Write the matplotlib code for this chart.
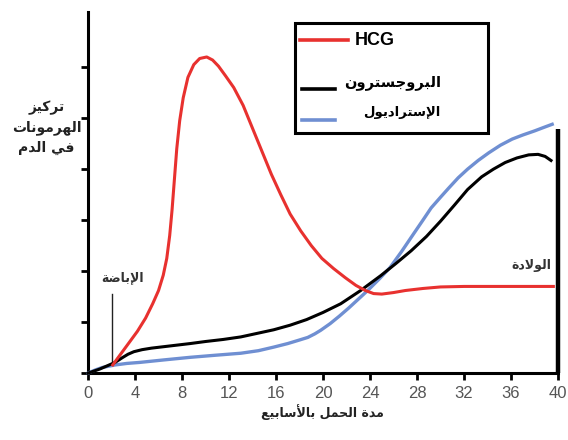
import matplotlib
matplotlib.use("Agg")
import matplotlib.pyplot as plt
from matplotlib.patches import Rectangle

# --- data (weeks, relative concentration) ---
hcg_x = [2.1, 2.8, 3.5, 4.2, 4.9, 5.5, 6.0, 6.4, 6.7, 6.95, 7.15, 7.35, 7.55, 7.8, 8.1, 8.5,
         9.0, 9.5, 10.1, 10.6, 11.1, 11.7, 12.4, 13.2, 14.0, 14.8, 15.6, 16.4, 17.2, 18.1,
         19.0, 19.9, 20.9, 21.9, 22.8, 23.6, 24.3, 25.0, 26.0, 27.0, 28.5, 30.0, 32.0, 36.0, 39.6]
hcg_y = [0.16, 0.38, 0.6, 0.82, 1.08, 1.36, 1.62, 1.92, 2.25, 2.7, 3.2, 3.8, 4.4, 4.95, 5.4, 5.8,
         6.05, 6.17, 6.2, 6.14, 6.02, 5.83, 5.6, 5.25, 4.8, 4.35, 3.9, 3.5, 3.12, 2.79,
         2.5, 2.25, 2.05, 1.87, 1.72, 1.62, 1.56, 1.55, 1.58, 1.62, 1.66, 1.69, 1.7, 1.7, 1.7]

prog_x = [0, 0.5, 1.0, 1.6, 2.3, 2.9, 3.4, 3.9, 4.6, 5.4, 6.5, 7.6, 8.7, 10.0, 11.5, 13.0,
          14.4, 15.8, 17.2, 18.6, 20.0, 21.5, 23.2, 24.9, 26.2, 27.5, 28.8, 30.0, 31.2, 32.3,
          33.5, 34.5, 35.5, 36.5, 37.5, 38.3, 38.9, 39.4]
prog_y = [0, 0.04, 0.08, 0.14, 0.21, 0.3, 0.37, 0.42, 0.46, 0.49, 0.52, 0.55, 0.58, 0.62, 0.66, 0.71,
          0.78, 0.85, 0.94, 1.05, 1.19, 1.36, 1.62, 1.91, 2.15, 2.4, 2.68, 2.98, 3.3, 3.6,
          3.85, 4.0, 4.13, 4.22, 4.28, 4.29, 4.25, 4.17]

estr_x = [0, 0.6, 1.2, 2.3, 3.3, 4.4, 6.5, 8.7, 10.8, 13.0, 14.5, 15.8, 17.0, 18.0, 18.7, 19.3,
          19.8, 20.6, 21.4, 22.2, 23.0, 23.8, 24.8, 25.7, 26.7, 27.7, 28.5, 29.2, 30.0, 30.7,
          31.5, 32.3, 33.2, 34.1, 35.1, 36.1, 37.0, 38.0, 38.8, 39.5]
estr_y = [0, 0.06, 0.11, 0.16, 0.19, 0.21, 0.26, 0.31, 0.35, 0.39, 0.44, 0.51, 0.58, 0.65, 0.7, 0.77,
          0.84, 0.97, 1.12, 1.28, 1.45, 1.62, 1.85, 2.07, 2.39, 2.73, 3.0, 3.24, 3.45, 3.63,
          3.83, 4.0, 4.17, 4.32, 4.47, 4.59, 4.67, 4.75, 4.82, 4.88]

x_ticks = list(range(0, 41, 4))
y_ticks = list(range(0, 7))
ovulation_week = 2.0
birth_week = 40

# --- minimal Arabic shaping (presentation forms, then visual order) ---
FORMS = {
    'ا': 'ﺍﺎ', 'أ': 'ﺃﺄ', 'إ': 'ﺇﺈ', 'د': 'ﺩﺪ', 'ر': 'ﺭﺮ', 'ز': 'ﺯﺰ', 'و': 'ﻭﻮ', 'ة': 'ﺓﺔ',
    'ب': 'ﺏﺐﺑﺒ', 'ت': 'ﺕﺖﺗﺘ', 'ج': 'ﺝﺞﺟﺠ', 'ح': 'ﺡﺢﺣﺤ', 'س': 'ﺱﺲﺳﺴ', 'ض': 'ﺽﺾﺿﻀ',
    'ع': 'ﻉﻊﻋﻌ', 'ف': 'ﻑﻒﻓﻔ', 'ك': 'ﻙﻚﻛﻜ', 'ل': 'ﻝﻞﻟﻠ', 'م': 'ﻡﻢﻣﻤ', 'ن': 'ﻥﻦﻧﻨ',
    'ه': 'ﻩﻪﻫﻬ', 'ي': 'ﻱﻲﻳﻴ',
}
LAMALEF = {'آ': 'ﻵﻶ', 'أ': 'ﻷﻸ', 'إ': 'ﻹﻺ', 'ا': 'ﻻﻼ'}


def ar(text):
    toks = []
    i = 0
    while i < len(text):
        if text[i] == 'ل' and i + 1 < len(text) and text[i + 1] in LAMALEF:
            toks.append(LAMALEF[text[i + 1]])
            i += 2
        else:
            toks.append(FORMS.get(text[i], text[i]))
            i += 1
    out = []
    for j, f in enumerate(toks):
        if len(f) == 1:
            out.append(f)
            continue
        prev = toks[j - 1] if j > 0 else ''
        nxt = toks[j + 1] if j + 1 < len(toks) else ''
        jp = len(prev) == 4
        jn = len(f) == 4 and len(nxt) > 1
        if jp and jn:
            out.append(f[3])
        elif jp:
            out.append(f[1])
        elif jn:
            out.append(f[2])
        else:
            out.append(f[0])
    return ''.join(reversed(out))


AR_FONT = ['DejaVu Sans']

fig = plt.figure(figsize=(5.68, 4.4), dpi=100)
ax = fig.add_axes([0.155, 0.152, 0.8275, 0.8205])

red = '#e8312f'
blue = '#6f8fd2'

ax.plot(estr_x, estr_y, color=blue, lw=2.4, clip_on=False, zorder=3)
ax.plot(prog_x, prog_y, color='black', lw=2.2, clip_on=False, zorder=4)
ax.plot(hcg_x, hcg_y, color=red, lw=2.2, clip_on=False, zorder=5)

# ovulation and birth markers
ax.plot([ovulation_week, ovulation_week], [0.16, 1.56], color='#222222', lw=1.0)
ax.text(2.9, 1.88, ar('الإباضة'), family=AR_FONT, fontsize=9, fontweight='bold',
        ha='center', va='center', color='#333333')
ax.plot([birth_week, birth_week], [0, 4.78], color='black', lw=3.2, clip_on=False,
        solid_capstyle='butt')
ax.text(39.4, 2.12, ar('الولادة'), family=AR_FONT, fontsize=9, fontweight='bold',
        ha='right', va='center', color='#333333')

ax.set_xlim(0, 40)
ax.set_ylim(0, 7.08)
ax.set_xticks(x_ticks)
ax.set_yticks(y_ticks)
ax.set_yticklabels([])
ax.tick_params(axis='both', direction='out', length=5, width=2, color='black')
ax.tick_params(axis='x', labelsize=12, labelcolor='#555555', pad=4)
for lab in ax.get_xticklabels():
    lab.set_family('Liberation Sans')
for s in ['top', 'right']:
    ax.spines[s].set_visible(False)
for s in ['left', 'bottom']:
    ax.spines[s].set_linewidth(2.2)

# labels
fig.text(0.567, 0.063, ar('مدة الحمل بالأسابيع'), family=AR_FONT, fontsize=9,
         fontweight='bold', ha='center', va='center', color='#222222')
ylab = '\n'.join(ar(t) for t in ['تركيز', 'الهرمونات', 'في الدم'])
fig.text(0.082, 0.71, ylab, family=AR_FONT, fontsize=10, fontweight='bold',
         ha='center', va='center', multialignment='center', linespacing=1.5, color='#222222')

# hand-made legend box
tr = ax.transAxes
ax.add_patch(Rectangle((0.44, 0.665), 0.411, 0.305, transform=tr, fill=False,
                       lw=2.2, edgecolor='black', zorder=6, clip_on=False))
ax.plot([0.451, 0.553], [0.922, 0.922], color=red, lw=2.6, transform=tr, clip_on=False, zorder=6)
ax.text(0.568, 0.922, 'HCG', transform=tr, fontsize=13, fontweight='bold',
        family='Liberation Sans', ha='left', va='center', zorder=6)
ax.plot([0.455, 0.526], [0.787, 0.787], color='black', lw=2.6, transform=tr, clip_on=False, zorder=6)
ax.text(0.752, 0.806, ar('البروجسترون'), transform=tr, family=AR_FONT, fontsize=10.5,
        fontweight='bold', ha='right', va='center', zorder=6)
ax.plot([0.455, 0.526], [0.70, 0.70], color=blue, lw=2.6, transform=tr, clip_on=False, zorder=6)
ax.text(0.75, 0.723, ar('الإستراديول'), transform=tr, family=AR_FONT, fontsize=9.5,
        fontweight='bold', ha='right', va='center', zorder=6)

fig.savefig('out.png', dpi=100)
